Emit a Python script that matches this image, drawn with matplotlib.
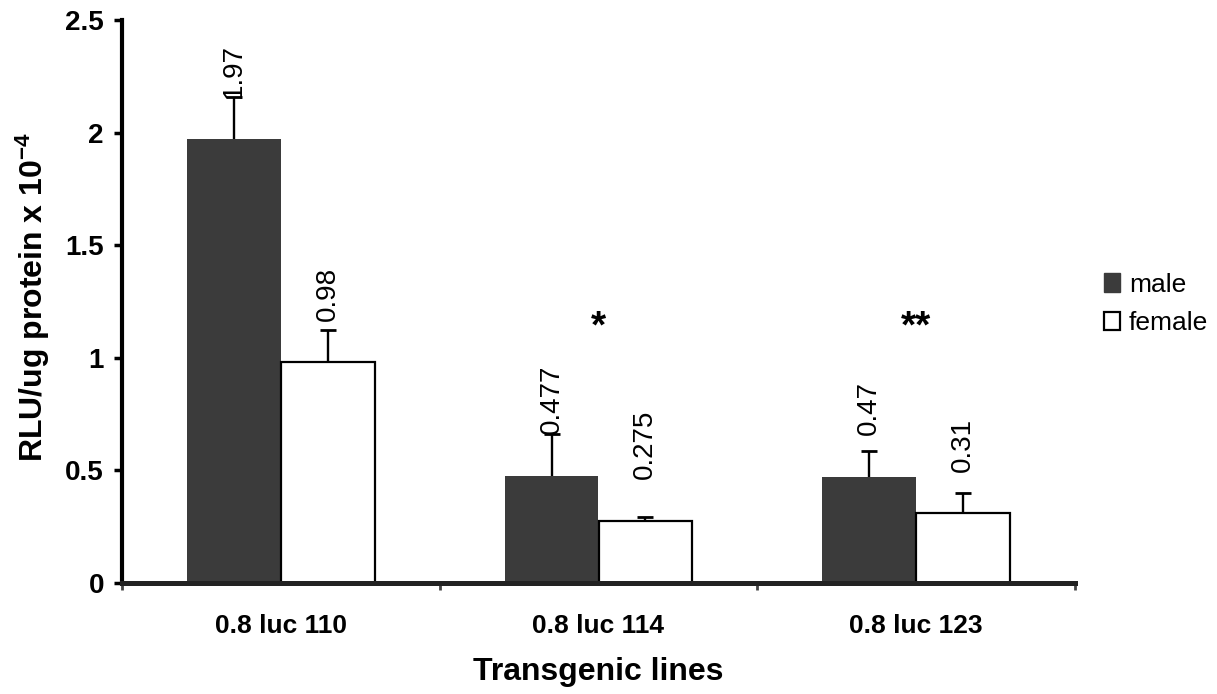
import matplotlib
matplotlib.use("Agg")
import matplotlib.pyplot as plt
import numpy as np
from matplotlib.patches import Patch

plt.rcParams['font.family'] = ['Liberation Sans', 'DejaVu Sans']
plt.rcParams['mathtext.fontset'] = 'custom'
plt.rcParams['mathtext.rm'] = 'Liberation Sans:bold'
plt.rcParams['mathtext.default'] = 'regular'

# ---- data ----
lines = ["0.8 luc 110", "0.8 luc 114", "0.8 luc 123"]
male = [1.97, 0.477, 0.47]
female = [0.98, 0.275, 0.31]
male_err = [0.19, 0.185, 0.117]
female_err = [0.145, 0.018, 0.09]
male_labels = ["1.97", "0.477", "0.47"]
female_labels = ["0.98", "0.275", "0.31"]
significance = ["", "*", "**"]
yticks = [0, 0.5, 1, 1.5, 2, 2.5]
ytick_labels = ["0", "0.5", "1", "1.5", "2", "2.5"]

W, H = 1217, 694
fig = plt.figure(figsize=(W / 100, H / 100), dpi=100)
ax = fig.add_axes([122 / W, (H - 583) / H, (1075 - 122) / W, (583 - 20) / H])

centers = np.arange(len(lines)) + 0.5
bw = 0.295
male_color = '#3b3b3b'

ax.bar(centers - bw / 2, male, width=bw, color=male_color, edgecolor=male_color,
       linewidth=0, zorder=2)
ax.bar(centers + bw / 2, female, width=bw, color='white', edgecolor='black',
       linewidth=1.6, zorder=2)

# error bars (upper only)
for xs, vals, errs in [(centers - bw / 2, male, male_err), (centers + bw / 2, female, female_err)]:
    tops = np.array(vals) + np.array(errs)
    ax.vlines(xs, vals, tops, colors='black', linewidth=1.7, zorder=3)
    ax.plot(xs, tops, linestyle='none', marker='_', markersize=12,
            markeredgewidth=2.0, color='black', zorder=3)

# value labels
for xs, vals, labs in [(centers - bw / 2, male, male_labels), (centers + bw / 2, female, female_labels)]:
    for x, v, lab in zip(xs, vals, labs):
        ax.annotate(lab, (x, v), xytext=(0, 30), textcoords='offset points',
                    rotation=90, ha='center', va='bottom', fontsize=20,
                    zorder=4)

# significance stars
for x, s in zip(centers, significance):
    if s:
        ax.text(x, 1.09, s, ha='center', va='baseline', fontsize=28,
                fontweight='bold', zorder=4)

ax.set_xlim(0, len(lines))
ax.set_ylim(0, 2.5)

for sp in ['top', 'right']:
    ax.spines[sp].set_visible(False)
ax.spines['left'].set_linewidth(3.0)
ax.spines['left'].set_color('black')
ax.spines['bottom'].set_linewidth(3.6)
ax.spines['bottom'].set_color('#222222')
ax.spines['bottom'].set_zorder(5)

ax.set_yticks(yticks)
ax.set_yticklabels(ytick_labels, fontsize=20, fontweight='bold')
ax.tick_params(axis='y', direction='out', length=6, width=2.5, pad=7, color='black')

ax.set_xticks(centers)
ax.set_xticklabels(lines, fontsize=19, fontweight='bold')
ax.tick_params(axis='x', which='major', length=0, pad=22)
ax.set_xticks(np.arange(len(lines) + 1), minor=True)
ax.tick_params(axis='x', which='minor', direction='out', length=5, width=2, color='#444444')

ax.set_xlabel("Transgenic lines", fontsize=23, fontweight='bold')
ax.xaxis.set_label_coords(0.5, (583 - 672) / 563)
ax.xaxis.label.set_va('center')

ax.set_ylabel("RLU/ug protein x 10$^{-4}$", fontsize=23, fontweight='bold')
ax.yaxis.label.set_va('center')
ax.yaxis.set_label_coords((33 - 122) / 953, (583 - 297) / 563)

handles = [Patch(facecolor=male_color, edgecolor=male_color, label='male'),
           Patch(facecolor='white', edgecolor='black', linewidth=1.6, label='female')]
fig.legend(handles=handles, loc='center left', bbox_to_anchor=(1104 / W, 1 - 304 / H),
           bbox_transform=fig.transFigure, frameon=False, fontsize=19,
           handlelength=0.6, handleheight=0.7, handletextpad=0.35,
           labelspacing=0.55, borderpad=0, borderaxespad=0)

fig.savefig("out.png", dpi=100)
